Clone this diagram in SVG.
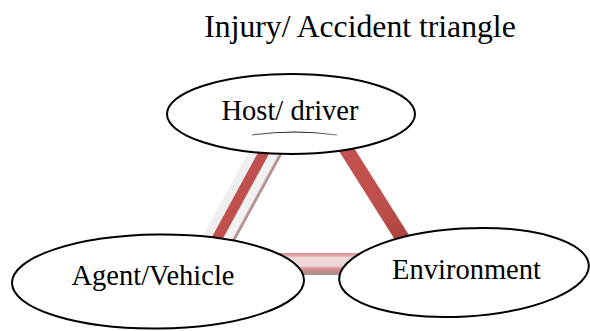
<svg xmlns="http://www.w3.org/2000/svg" width="590" height="331" viewBox="0 0 590 331">
  <defs>
    <linearGradient id="gBottom" x1="0" y1="253" x2="0" y2="275" gradientUnits="userSpaceOnUse">
      <stop offset="0" stop-color="#d98c8c"/>
      <stop offset="0.12" stop-color="#e4a8a8"/>
      <stop offset="0.22" stop-color="#f2dcdc"/>
      <stop offset="0.6" stop-color="#efd3d3"/>
      <stop offset="0.68" stop-color="#dc9a9a"/>
      <stop offset="0.8" stop-color="#d28686"/>
      <stop offset="0.82" stop-color="#b99292"/>
      <stop offset="1" stop-color="#b08a8a"/>
    </linearGradient>
    <linearGradient id="gRight" x1="340" y1="140" x2="410" y2="250" gradientUnits="userSpaceOnUse">
      <stop offset="0" stop-color="#c4524f"/>
      <stop offset="0.6" stop-color="#bf4f4c"/>
      <stop offset="1" stop-color="#a63f3c"/>
    </linearGradient>
    <linearGradient id="gArc" x1="252" y1="0" x2="337" y2="0" gradientUnits="userSpaceOnUse">
      <stop offset="0" stop-color="#777"/>
      <stop offset="0.5" stop-color="#111"/>
      <stop offset="1" stop-color="#777"/>
    </linearGradient>
  </defs>
  <style>
    .node ellipse { fill: #ffffff; stroke: #000000; stroke-width: 2; }
    .lbl { font-family: "Liberation Serif", "Times New Roman", serif; font-size: 28.5px; fill: #000000; text-anchor: middle; }
    .title { font-family: "Liberation Serif", "Times New Roman", serif; font-size: 31.7px; fill: #000000; text-anchor: middle; }
  </style>

  <text class="title" x="360" y="37">Injury/ Accident triangle</text>

  <g id="connectors">
    <g id="conn-host-agent" fill="none">
      <line x1="260.2" y1="140" x2="200.3" y2="250" stroke="#efefef" stroke-width="9"/>
      <line x1="281.2" y1="140" x2="221.3" y2="250" stroke="#f1f1f1" stroke-width="9"/>
      <line x1="270.7" y1="140" x2="210.8" y2="250" stroke="#c0504d" stroke-width="10.3"/>
      <line x1="288.2" y1="140" x2="228.3" y2="250" stroke="#b58f8f" stroke-width="3"/>
      <line x1="286.8" y1="140" x2="226.9" y2="250" stroke="#d8c4c4" stroke-width="0.8"/>
    </g>
    <line id="conn-host-env" x1="340.5" y1="140" x2="409.9" y2="250" stroke="url(#gRight)" stroke-width="14.5"/>
    <rect id="conn-agent-env" x="270" y="253" width="100" height="22" fill="url(#gBottom)"/>
  </g>

  <g id="host" class="node">
    <ellipse cx="291" cy="114" rx="124" ry="40"/>
    <text class="lbl" x="290" y="120">Host/ driver</text>
    <path d="M252,135 Q294,129 337,135" fill="none" stroke="url(#gArc)" stroke-width="1.2"/>
  </g>

  <g id="agent" class="node">
    <ellipse cx="158" cy="281.5" rx="146" ry="47" transform="rotate(-0.6 158 281.5)"/>
    <text class="lbl" x="153" y="285">Agent/Vehicle</text>
  </g>

  <g id="environment" class="node">
    <ellipse cx="464" cy="272.5" rx="125" ry="44" transform="rotate(-3.4 464 272.5)"/>
    <text class="lbl" x="466.5" y="279">Environment</text>
  </g>
</svg>
